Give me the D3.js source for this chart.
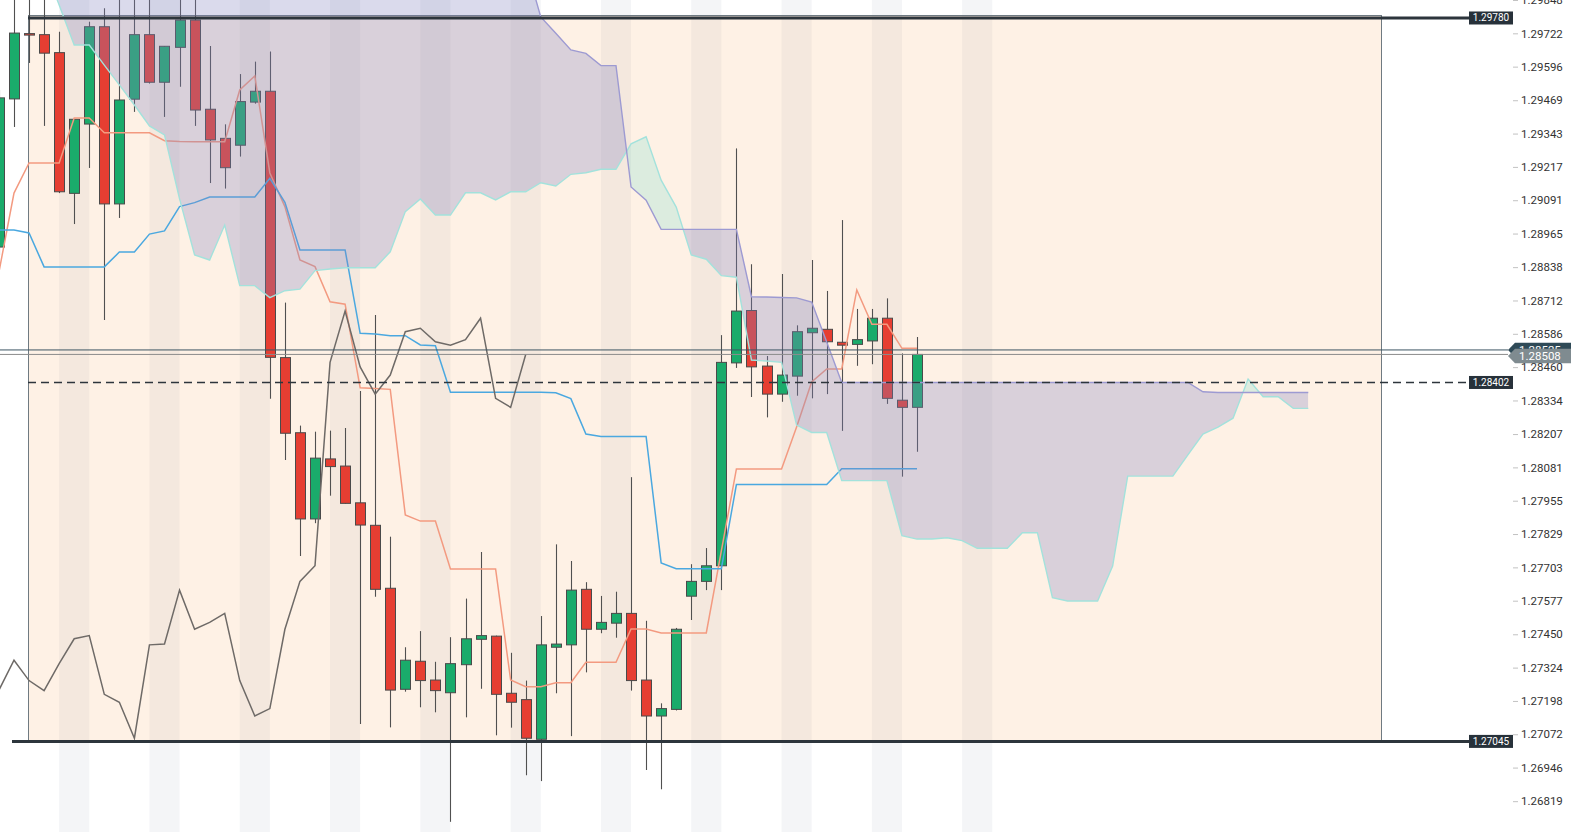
<!DOCTYPE html>
<html><head><meta charset="utf-8">
<script src="https://cdn.jsdelivr.net/npm/d3@7"></script>
<style>html,body{margin:0;padding:0;background:#fff;overflow:hidden}svg{display:block;font-family:Roboto,"Noto Sans",sans-serif}</style>
</head><body><svg id="c" width="1571" height="832"></svg>
<script>
// ---------- DATA ----------
const barIndex = d3.range(-1, 61);          // candle positions (-1 .. 60)
const cloudIndex = d3.range(-1, 87);        // cloud positions (shifted 26 ahead)
const sessionStarts = [3, 9, 15, 21, 27, 33, 39, 45, 51, 57, 63];

const open = [1.28914,1.29474,1.29721,1.29717,1.29649,1.29117,1.29379,1.29747,1.29077,1.29473,1.29717,1.29537,1.29669,1.29772,1.29435,1.29325,1.29299,1.29462,1.29503,1.28496,1.28212,1.27886,1.28113,1.28086,1.27947,1.27862,1.27624,1.27242,1.27348,1.27277,1.27229,1.27335,1.27431,1.27443,1.27227,1.27203,1.27053,1.27401,1.27410,1.27620,1.27469,1.27492,1.27529,1.27277,1.27141,1.27166,1.27594,1.27650,1.27709,1.28476,1.28674,1.28464,1.28358,1.28426,1.28590,1.28603,1.28554,1.28546,1.28559,1.28645,1.28335,1.28308];
const high = [1.29508,1.29900,1.30058,1.29994,1.29728,1.29398,1.29766,1.29817,1.29920,1.29900,1.29987,1.29674,1.29930,1.29910,1.29674,1.29378,1.29568,1.29615,1.29653,1.28704,1.28239,1.28216,1.28220,1.28230,1.28370,1.28657,1.27819,1.27401,1.27462,1.27346,1.27439,1.27585,1.27761,1.27445,1.27380,1.27275,1.27519,1.27790,1.27727,1.27647,1.27595,1.27611,1.28044,1.27501,1.27189,1.27474,1.27715,1.27776,1.28581,1.29287,1.28849,1.28502,1.28812,1.28618,1.28865,1.28748,1.29016,1.28680,1.28680,1.28720,1.28512,1.28574];
const low = [1.28884,1.29368,1.29610,1.29372,1.29118,1.29001,1.29213,1.28638,1.29024,1.29425,1.29532,1.29406,1.29520,1.29372,1.29156,1.29135,1.29256,1.29456,1.28340,1.28109,1.27746,1.27870,1.27974,1.27944,1.27111,1.27592,1.27098,1.27233,1.27174,1.27155,1.26741,1.27136,1.27244,1.27068,1.27097,1.26917,1.26895,1.27227,1.27065,1.27306,1.27454,1.27437,1.27237,1.26937,1.26864,1.27162,1.27504,1.27617,1.27617,1.28457,1.28347,1.28270,1.28329,1.28352,1.28342,1.28358,1.28219,1.28465,1.28471,1.28321,1.28046,1.28140];
const close = [1.29478,1.29723,1.29716,1.29647,1.29123,1.29397,1.29747,1.29077,1.29470,1.29717,1.29537,1.29673,1.29772,1.29432,1.29319,1.29214,1.29464,1.29503,1.28497,1.28210,1.27886,1.28116,1.28084,1.27945,1.27863,1.27620,1.27239,1.27352,1.27275,1.27237,1.27339,1.27433,1.27445,1.27223,1.27193,1.27057,1.27410,1.27413,1.27617,1.27469,1.27495,1.27529,1.27275,1.27141,1.27169,1.27469,1.27650,1.27709,1.28478,1.28672,1.28461,1.28358,1.28430,1.28594,1.28607,1.28556,1.28543,1.28564,1.28645,1.28342,1.28308,1.28508];

const tenkan = [1.28820,1.29118,1.29232,1.29232,1.29232,1.29402,1.29402,1.29346,1.29346,1.29346,1.29346,1.29316,1.29313,1.29312,1.29312,1.29312,1.29508,1.29561,1.29194,1.29067,1.28865,1.28840,1.28707,1.28698,1.28382,1.28379,1.28376,1.27901,1.27878,1.27878,1.27697,1.27697,1.27697,1.27697,1.27277,1.27252,1.27252,1.27267,1.27267,1.27344,1.27344,1.27344,1.27470,1.27470,1.27455,1.27455,1.27455,1.27455,1.27765,1.28075,1.28075,1.28075,1.28075,1.28234,1.28404,1.28453,1.28453,1.28752,1.28622,1.28622,1.28531,1.28531];
const kijun = [1.28978,1.28978,1.28967,1.28839,1.28839,1.28839,1.28839,1.28839,1.28895,1.28895,1.28963,1.28975,1.29067,1.29082,1.29103,1.29103,1.29103,1.29103,1.29174,1.29083,1.28903,1.28903,1.28903,1.28903,1.28588,1.28585,1.28579,1.28579,1.28544,1.28541,1.28365,1.28365,1.28365,1.28365,1.28365,1.28365,1.28365,1.28363,1.28341,1.28207,1.28198,1.28198,1.28198,1.28198,1.27720,1.27698,1.27698,1.27698,1.27698,1.28016,1.28016,1.28016,1.28016,1.28016,1.28016,1.28016,1.28076,1.28076,1.28076,1.28076,1.28076,1.28076];

const spanA = [1.30150,1.30113,1.30056,1.29980,1.29829,1.29678,1.29678,1.29602,1.29527,1.29451,1.29372,1.29338,1.29096,1.28884,1.28865,1.28997,1.28768,1.28768,1.28723,1.28749,1.28755,1.28825,1.28831,1.28836,1.28836,1.28836,1.28896,1.29048,1.29096,1.29035,1.29035,1.29119,1.29119,1.29092,1.29123,1.29123,1.29157,1.29145,1.29189,1.29195,1.29208,1.29208,1.29304,1.29331,1.29167,1.29065,1.28884,1.28868,1.28806,1.28800,1.28487,1.28483,1.28478,1.28241,1.28213,1.28213,1.28031,1.28031,1.28031,1.28031,1.27823,1.27810,1.27810,1.27815,1.27804,1.27775,1.27775,1.27775,1.27834,1.27834,1.27588,1.27576,1.27576,1.27576,1.27708,1.28048,1.28048,1.28048,1.28048,1.28128,1.28207,1.28233,1.28267,1.28415,1.28348,1.28348,1.28304,1.28304];
const spanB = [1.30010,1.30010,1.30010,1.30010,1.30010,1.30010,1.30010,1.30010,1.30010,1.30010,1.30010,1.30010,1.30010,1.30010,1.30010,1.30010,1.30010,1.30010,1.30010,1.30010,1.30010,1.30010,1.30010,1.30010,1.30010,1.30010,1.30010,1.30010,1.30010,1.30010,1.30010,1.30010,1.30010,1.30010,1.30010,1.29984,1.29784,1.29722,1.29659,1.29646,1.29600,1.29600,1.29141,1.29091,1.28981,1.28981,1.28981,1.28981,1.28981,1.28981,1.28726,1.28725,1.28723,1.28722,1.28706,1.28555,1.28402,1.28402,1.28402,1.28402,1.28402,1.28402,1.28402,1.28402,1.28402,1.28402,1.28402,1.28402,1.28402,1.28402,1.28402,1.28402,1.28402,1.28402,1.28402,1.28402,1.28402,1.28402,1.28402,1.28402,1.28367,1.28364,1.28364,1.28364,1.28364,1.28364,1.28364,1.28364];

const tickLabels = ["1.29848","1.29722","1.29596","1.29469","1.29343","1.29217","1.29091","1.28965","1.28838","1.28712","1.28586","1.28460","1.28334","1.28207","1.28081","1.27955","1.27829","1.27703","1.27577","1.27450","1.27324","1.27198","1.27072","1.26946","1.26819"];

const zoneTop = 1.29791, zoneBottom = 1.27045;
const levelTop = 1.29780, levelMid = 1.28402, levelBottom = 1.27045;
const lastPrice = 1.28508, markPrice = 1.28525;
const chikouShift = 26;

// ---------- DRAW ----------
const W = 1571, H = 832;
const svg = d3.select('#c');
const x = d3.scaleLinear().domain([0, 60]).range([14, 917]);
const y = d3.scaleLinear().domain([1.267025, 1.29848]).range([H, 0]);
const fmt = d3.format('.5f');

// session bands
svg.append('g').selectAll('rect').data(sessionStarts).join('rect')
  .attr('x', d => x(d)).attr('width', d => x(d + 2) - x(d))
  .attr('y', 0).attr('height', H).attr('fill', '#f4f5f7');

// zone rectangle
const zx0 = 28, zx1 = 1381;
svg.append('rect').attr('x', zx0 + 0.5).attr('y', Math.round(y(zoneTop)) + 0.5)
  .attr('width', zx1 - zx0).attr('height', y(zoneBottom) - y(zoneTop))
  .attr('fill', 'rgba(245,160,80,0.15)').attr('stroke', '#6f7a82').attr('stroke-width', 1);

// candles
const candles = barIndex.map((b, k) => ({b, o: open[k], h: high[k], l: low[k], c: close[k]}));
const cg = svg.append('g');
cg.selectAll('line').data(candles).join('line')
  .attr('x1', d => Math.round(x(d.b)) + 0.5).attr('x2', d => Math.round(x(d.b)) + 0.5)
  .attr('y1', d => y(d.h)).attr('y2', d => y(d.l))
  .attr('stroke', '#505050').attr('stroke-width', 1.1);
cg.selectAll('rect').data(candles).join('rect')
  .attr('x', d => Math.round(x(d.b)) - 4.5).attr('width', 10)
  .attr('y', d => y(Math.max(d.o, d.c)))
  .attr('height', d => Math.max(1.5, Math.abs(y(d.o) - y(d.c))))
  .attr('fill', d => d.c >= d.o ? '#1aab6b' : '#e63e32')
  .attr('stroke', '#4a4a4a').attr('stroke-width', 1);

// indicator lines
const lineGen = d3.line().x(d => x(d[0])).y(d => y(d[1]));
svg.append('path').attr('d', lineGen(barIndex.map((b, k) => [b, tenkan[k]])))
  .attr('fill', 'none').attr('stroke', '#f39a80').attr('stroke-width', 1.5);
svg.append('path').attr('d', lineGen(barIndex.map((b, k) => [b, kijun[k]])))
  .attr('fill', 'none').attr('stroke', '#4aa8e0').attr('stroke-width', 1.5);
const chikou = barIndex.filter((b, k) => k + chikouShift < close.length)
  .map((b, k) => [b, close[k + chikouShift]]);
svg.append('path').attr('d', lineGen(chikou))
  .attr('fill', 'none').attr('stroke', '#6e6a67').attr('stroke-width', 1.5);

// cloud
const cloud = cloudIndex.map((b, k) => ({b, a: spanA[k], s: spanB[k]}));
const defs = svg.append('defs');
defs.append('clipPath').attr('id', 'up').append('path')
  .attr('d', d3.area().x(d => x(d.b)).y0(d => y(d.s)).y1(-2000)(cloud));
defs.append('clipPath').attr('id', 'down').append('path')
  .attr('d', d3.area().x(d => x(d.b)).y0(d => y(d.s)).y1(3000)(cloud));
const between = d3.area().x(d => x(d.b)).y0(d => y(d.a)).y1(d => y(d.s));
svg.append('path').attr('d', between(cloud)).attr('clip-path', 'url(#down)')
  .attr('fill', 'rgba(133,131,192,0.30)');
svg.append('path').attr('d', between(cloud)).attr('clip-path', 'url(#up)')
  .attr('fill', 'rgba(100,220,205,0.22)');
svg.append('path').attr('d', lineGen(cloud.map(d => [d.b, d.a])))
  .attr('fill', 'none').attr('stroke', '#a3e2dc').attr('stroke-width', 1.4);
svg.append('path').attr('d', lineGen(cloud.map(d => [d.b, d.s])))
  .attr('fill', 'none').attr('stroke', '#9d9ad2').attr('stroke-width', 1.4);

// horizontal levels
const labelX = 1469, labelW = 44;
function level(p, xs, dash, width) {
  svg.append('line').attr('x1', xs).attr('x2', labelX).attr('y1', y(p)).attr('y2', y(p))
    .attr('stroke', '#2d353c').attr('stroke-width', width).attr('stroke-dasharray', dash);
  svg.append('rect').attr('x', labelX).attr('y', y(p) - 6.5).attr('width', labelW).attr('height', 13)
    .attr('fill', '#27313a');
  svg.append('text').attr('x', labelX + labelW / 2).attr('y', y(p)).attr('dy', '0.35em')
    .attr('text-anchor', 'middle').attr('fill', '#fff').attr('font-size', 10).text(fmt(p));
}
level(levelTop, 28, null, 3);
level(levelMid, 28, '8,5', 1.6);
level(levelBottom, 12, null, 3);

// price lines and tags
function tag(p, col, lineCol) {
  svg.append('line').attr('x1', 0).attr('x2', 1508).attr('y1', y(p)).attr('y2', y(p))
    .attr('stroke', lineCol).attr('stroke-width', 1);
  const yy = y(p) + (col === '#7f8b90' ? 1.5 : 0);
  svg.append('path').attr('d', `M1508,${yy}L1515,${yy - 7.2}L1571,${yy - 7.2}L1571,${yy + 7.2}L1515,${yy + 7.2}Z`)
    .attr('fill', col);
  svg.append('text').attr('x', 1519).attr('y', yy).attr('dy', '0.36em')
    .attr('fill', '#fff').attr('font-size', 11.5).text(fmt(p));
}
tag(markPrice, '#2f4a57', '#3b5563');
tag(lastPrice, '#7f8b90', '#8c8c8c');

// right axis
const ax = svg.append('g').attr('transform', 'translate(1513,0)')
  .call(d3.axisRight(y).tickValues(tickLabels.map(Number)).tickFormat((d, i) => tickLabels[i]).tickSize(5).tickPadding(3));
ax.select('.domain').remove();
ax.selectAll('.tick line').attr('stroke', '#c2c2c2');
ax.selectAll('.tick text').attr('fill', '#333').attr('font-size', 11.5).attr('font-family', 'Roboto, sans-serif');
</script></body></html>
